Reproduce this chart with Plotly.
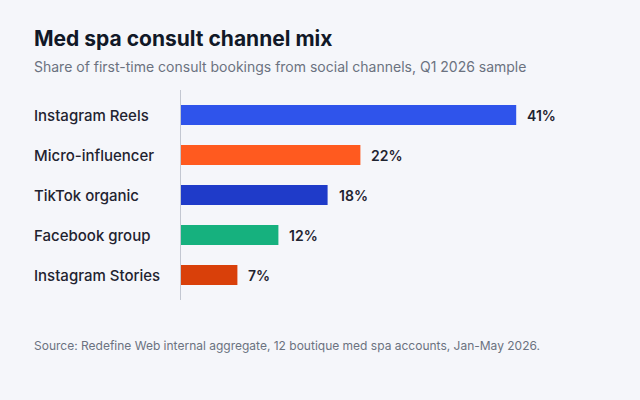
import plotly.graph_objects as go

categories = ["Instagram Reels", "Micro-influencer", "TikTok organic", "Facebook group", "Instagram Stories"]
values = [41, 22, 18, 12, 7]
colors = ["#2F54EB", "#FF5A1F", "#1F3BC9", "#16B17E", "#D9400A"]

title = "Med spa consult channel mix"
subtitle = "Share of first-time consult bookings from social channels, Q1 2026 sample"
source = "Source: Redefine Web internal aggregate, 12 boutique med spa accounts, Jan-May 2026."

W, H = 640, 400
ML, MR, MT, MB = 180, 30, 90, 100
PW = W - ML - MR
PH = H - MT - MB

def px_x(p):
    return (p - ML) / PW

def px_y(p):
    return (H - MB - p) / PH

FONT = "Inter"

fig = go.Figure()
fig.add_trace(go.Bar(
    x=values, y=categories, orientation="h",
    marker=dict(color=colors, line=dict(width=0)),
    hoverinfo="skip",
))

annotations = []
for c, v in zip(categories, values):
    annotations.append(dict(
        x=px_x(32), xref="paper", y=c, yref="y", text=c, showarrow=False,
        xanchor="left", yanchor="middle",
        font=dict(family=FONT, size=15, color="#1F2330", weight=500),
    ))
    annotations.append(dict(
        x=v, xref="x", y=c, yref="y", text=f"{v}%", showarrow=False,
        xanchor="left", yanchor="middle", xshift=9,
        font=dict(family=FONT, size=14, color="#1F2330", weight=600),
    ))

annotations.append(dict(
    x=px_x(32), xref="paper", y=px_y(38), yref="paper", text=title, showarrow=False,
    xanchor="left", yanchor="middle",
    font=dict(family=FONT, size=21, color="#111827", weight=700),
))
annotations.append(dict(
    x=px_x(32), xref="paper", y=px_y(67), yref="paper", text=subtitle, showarrow=False,
    xanchor="left", yanchor="middle",
    font=dict(family=FONT, size=14, color="#6B7280"),
))
annotations.append(dict(
    x=px_x(32), xref="paper", y=px_y(345), yref="paper", text=source, showarrow=False,
    xanchor="left", yanchor="middle",
    font=dict(family=FONT, size=12, color="#6B7280"),
))

fig.update_layout(
    width=W, height=H,
    margin=dict(l=ML, r=MR, t=MT, b=MB),
    paper_bgcolor="#F5F6FA", plot_bgcolor="#F5F6FA",
    bargap=0.5, showlegend=False,
    xaxis=dict(range=[0, PW / 8.2], visible=False, fixedrange=True),
    yaxis=dict(range=[4.625, -0.625], showticklabels=False, showgrid=False,
               zeroline=False, showline=False, ticks="", fixedrange=True),
    annotations=annotations,
    shapes=[dict(type="line", xref="x", yref="paper", x0=0, x1=0, y0=0, y1=1,
                 line=dict(color="#C3C7D1", width=2))],
)

fig.write_html("out.html", config={"displayModeBar": False})
